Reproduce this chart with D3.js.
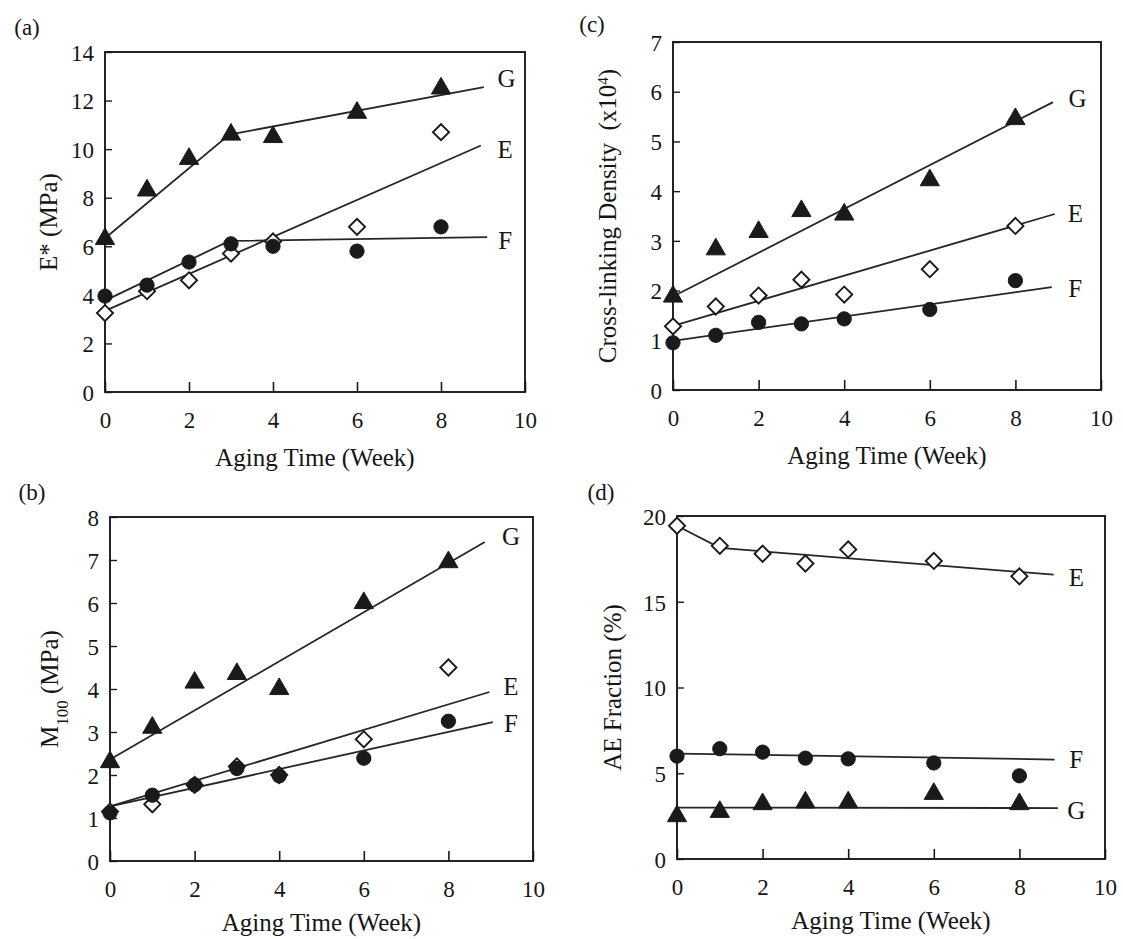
<!DOCTYPE html>
<html>
<head>
<meta charset="utf-8">
<script src="https://cdn.jsdelivr.net/npm/d3@7"></script>
<style>
  body { margin: 0; background: #fff; }
  text { font-family: "Liberation Serif", "Times New Roman", serif; fill: #161616; }
</style>
</head>
<body>
<div id="chart"></div>
<script>
// Aging time (weeks) shared by every panel
var weeks = [0, 1, 2, 3, 4, 6, 8];

// (a) E* (MPa)
var eStarG = [6.3, 8.3, 9.6, 10.6, 10.5, 11.5, 12.5];
var eStarE = [3.25, 4.15, 4.6, 5.7, 6.2, 6.8, 10.7];
var eStarF = [3.95, 4.4, 5.35, 6.1, 6.0, 5.8, 6.8];
var eStarFitG = [[0, 6.33], [2.96, 10.6], [9.02, 12.55]];
var eStarFitE = [[0, 3.34], [8.95, 10.15]];
var eStarFitF = [[0, 3.76], [2.96, 6.22], [9.1, 6.38]];

// (b) M100 (MPa)
var m100G = [2.3, 3.1, 4.15, 4.35, 4.0, 6.0, 6.95];
var m100E = [1.15, 1.32, 1.77, 2.2, 2.0, 2.83, 4.5];
var m100F = [1.12, 1.53, 1.77, 2.15, 1.98, 2.39, 3.25];
var m100FitG = [[0, 2.36], [8.86, 7.42]];
var m100FitE = [[0, 1.27], [8.97, 3.93]];
var m100FitF = [[0, 1.27], [9.05, 3.23]];

// (c) Cross-linking density (x10^4)
var xlinkG = [1.88, 2.83, 3.18, 3.6, 3.53, 4.22, 5.45];
var xlinkE = [1.28, 1.68, 1.9, 2.22, 1.92, 2.43, 3.3];
var xlinkF = [0.95, 1.1, 1.36, 1.33, 1.43, 1.62, 2.2];
var xlinkFitG = [[0, 1.88], [8.88, 5.79]];
var xlinkFitE = [[0, 1.29], [8.92, 3.54]];
var xlinkFitF = [[0, 0.99], [8.85, 2.07]];

// (d) AE fraction (%)
var aeE = [19.43, 18.26, 17.8, 17.23, 18.05, 17.38, 16.48];
var aeF = [6.0, 6.43, 6.23, 5.88, 5.84, 5.6, 4.85];
var aeG = [2.5, 2.75, 3.2, 3.3, 3.3, 3.8, 3.2];
var aeFitE = [[0, 19.43], [1, 18.14], [8.8, 16.58]];
var aeFitF = [[0, 6.15], [8.82, 5.8]];
var aeFitG = [[0, 3.0], [8.9, 2.97]];

// tick values
var xTicks = [0, 2, 4, 6, 8, 10];
var eStarTicks = [0, 2, 4, 6, 8, 10, 12, 14];
var m100Ticks = [0, 1, 2, 3, 4, 5, 6, 7, 8];
var xlinkTicks = [0, 1, 2, 3, 4, 5, 6, 7];
var aeTicks = [0, 5, 10, 15, 20];

var svgWidth = 1123;
var svgHeight = 939;
var serif = "'Liberation Serif', 'Times New Roman', serif";

var svg = d3.select("#chart")
  .append("svg")
  .attr("width", svgWidth)
  .attr("height", svgHeight);

var ink = "#1a1a1a";

// panel boxes and what goes in each
var panels = [
  {
    tag: "(a)", tagX: 27, tagY: 35, titleOff: 48, xTitleOff: 74,
    box: { left: 105, right: 525, top: 52, bottom: 392 },
    yMax: 14, yTicks: eStarTicks,
    yTitle: [{ t: "E* (MPa)" }],
    series: [
      { name: "G", shape: "tri", values: eStarG, fit: eStarFitG, label: [9.56, 12.9] },
      { name: "E", shape: "dia", values: eStarE, fit: eStarFitE, label: [9.53, 10.0] },
      { name: "F", shape: "dot", values: eStarF, fit: eStarFitF, label: [9.53, 6.23] }
    ]
  },
  {
    tag: "(b)", tagX: 32, tagY: 500, titleOff: 52, xTitleOff: 70,
    box: { left: 110, right: 533, top: 517, bottom: 861 },
    yMax: 8, yTicks: m100Ticks,
    yTitle: [{ t: "M" }, { t: "100", sub: true }, { t: " (MPa)" }],
    series: [
      { name: "G", shape: "tri", values: m100G, fit: m100FitG, label: [9.48, 7.56] },
      { name: "E", shape: "dia", values: m100E, fit: m100FitE, label: [9.48, 4.06] },
      { name: "F", shape: "dot", values: m100F, fit: m100FitF, label: [9.48, 3.2] }
    ]
  },
  {
    tag: "(c)", tagX: 592, tagY: 32, titleOff: 57, xTitleOff: 74,
    box: { left: 673, right: 1101, top: 42, bottom: 390 },
    yMax: 7, yTicks: xlinkTicks,
    yTitle: [{ t: "Cross-linking Density\u2002(x10" }, { t: "4", sup: true }, { t: ")" }],
    series: [
      { name: "G", shape: "tri", values: xlinkG, fit: xlinkFitG, label: [9.45, 5.86] },
      { name: "E", shape: "dia", values: xlinkE, fit: xlinkFitE, label: [9.4, 3.56] },
      { name: "F", shape: "dot", values: xlinkF, fit: xlinkFitF, label: [9.4, 2.04] }
    ]
  },
  {
    tag: "(d)", tagX: 601, tagY: 500, titleOff: 56, xTitleOff: 70,
    box: { left: 677, right: 1105, top: 516, bottom: 859 },
    yMax: 20, yTicks: aeTicks,
    yTitle: [{ t: "AE Fraction (%)" }],
    series: [
      { name: "E", shape: "dia", values: aeE, fit: aeFitE, label: [9.33, 16.43] },
      { name: "F", shape: "dot", values: aeF, fit: aeFitF, label: [9.33, 5.8] },
      { name: "G", shape: "tri", values: aeG, fit: aeFitG, label: [9.33, 2.87] }
    ]
  }
];

var triSym = d3.symbol().type(d3.symbolTriangle).size(160);
var dotSym = d3.symbol().type(d3.symbolCircle).size(160);
var diaSym = d3.symbol().type(d3.symbolSquare).size(130);

panels.forEach(function(p) {
  var b = p.box;
  var x = d3.scaleLinear().domain([0, 10]).range([b.left, b.right]);
  var y = d3.scaleLinear().domain([0, p.yMax]).range([b.bottom, b.top]);
  var g = svg.append("g");

  // panel tag
  g.append("text")
    .attr("x", p.tagX)
    .attr("y", p.tagY)
    .attr("text-anchor", "middle")
    .style("font-size", "23px")
    .text(p.tag);

  // bottom axis, ticks pointing in
  var xAxis = g.append("g")
    .attr("transform", `translate(0, ${b.bottom})`)
    .call(d3.axisBottom(x).tickValues(xTicks).tickFormat(d3.format("d")).tickSize(-10).tickPadding(20));
  xAxis.attr("font-family", serif).attr("font-size", 23);
  xAxis.select(".domain").remove();
  xAxis.selectAll(".tick line").attr("stroke", ink).attr("stroke-width", 1.6);
  xAxis.selectAll(".tick text")
    .attr("fill", "#161616")
    .style("font-size", "23px")
    .style("font-family", serif);

  // left axis, ticks pointing in
  var yAxis = g.append("g")
    .attr("transform", `translate(${b.left}, 0)`)
    .call(d3.axisLeft(y).tickValues(p.yTicks).tickFormat(d3.format("d")).tickSize(-7).tickPadding(11));
  yAxis.attr("font-family", serif).attr("font-size", 23);
  yAxis.select(".domain").remove();
  yAxis.selectAll(".tick line").attr("stroke", ink).attr("stroke-width", 1.4);
  yAxis.selectAll(".tick text")
    .attr("fill", "#161616")
    .attr("dy", "0.36em")
    .style("font-size", "23px")
    .style("font-family", serif);

  // frame
  g.append("rect")
    .attr("x", x(0))
    .attr("y", y(p.yMax))
    .attr("width", x(10) - x(0))
    .attr("height", y(0) - y(p.yMax))
    .attr("fill", "none")
    .attr("stroke", ink)
    .attr("stroke-width", 1.9);

  // axis titles
  g.append("text")
    .attr("x", (b.left + b.right) / 2)
    .attr("y", b.bottom + p.xTitleOff)
    .attr("text-anchor", "middle")
    .style("font-size", "25px")
    .text("Aging Time (Week)");

  var yt = g.append("text")
    .attr("transform", `translate(${b.left - p.titleOff}, ${(b.top + b.bottom) / 2}) rotate(-90)`)
    .attr("text-anchor", "middle")
    .style("font-size", "25px");
  p.yTitle.forEach(function(part) {
    var ts = yt.append("tspan").text(part.t);
    if (part.sub) ts.attr("baseline-shift", "sub").style("font-size", "17px");
    if (part.sup) ts.attr("baseline-shift", "super").style("font-size", "15px");
  });

  var line = d3.line().x(d => x(d[0])).y(d => y(d[1]));

  // fitted lines
  p.series.forEach(function(s) {
    g.append("path")
      .attr("d", line(s.fit))
      .attr("fill", "none")
      .attr("stroke", "#262626")
      .attr("stroke-width", 1.8);
  });

  // markers
  p.series.forEach(function(s) {
    var sym = s.shape === "tri" ? triSym : s.shape === "dot" ? dotSym : diaSym;
    g.selectAll(null)
      .data(weeks.map((w, i) => [w, s.values[i]]))
      .enter()
      .append("path")
      .attr("d", sym)
      .attr("transform", function(d) {
        var t = `translate(${x(d[0])}, ${y(d[1])})`;
        return s.shape === "dia" ? t + " rotate(45)" : t;
      })
      .attr("fill", s.shape === "dia" ? "#fff" : ink)
      .attr("stroke", ink)
      .attr("stroke-width", s.shape === "dia" ? 1.9 : 1);
  });

  // series letters
  p.series.forEach(function(s) {
    g.append("text")
      .attr("x", x(s.label[0]))
      .attr("y", y(s.label[1]))
      .attr("dy", "0.35em")
      .attr("text-anchor", "middle")
      .style("font-size", "25px")
      .text(s.name);
  });
});
</script>
</body>
</html>
